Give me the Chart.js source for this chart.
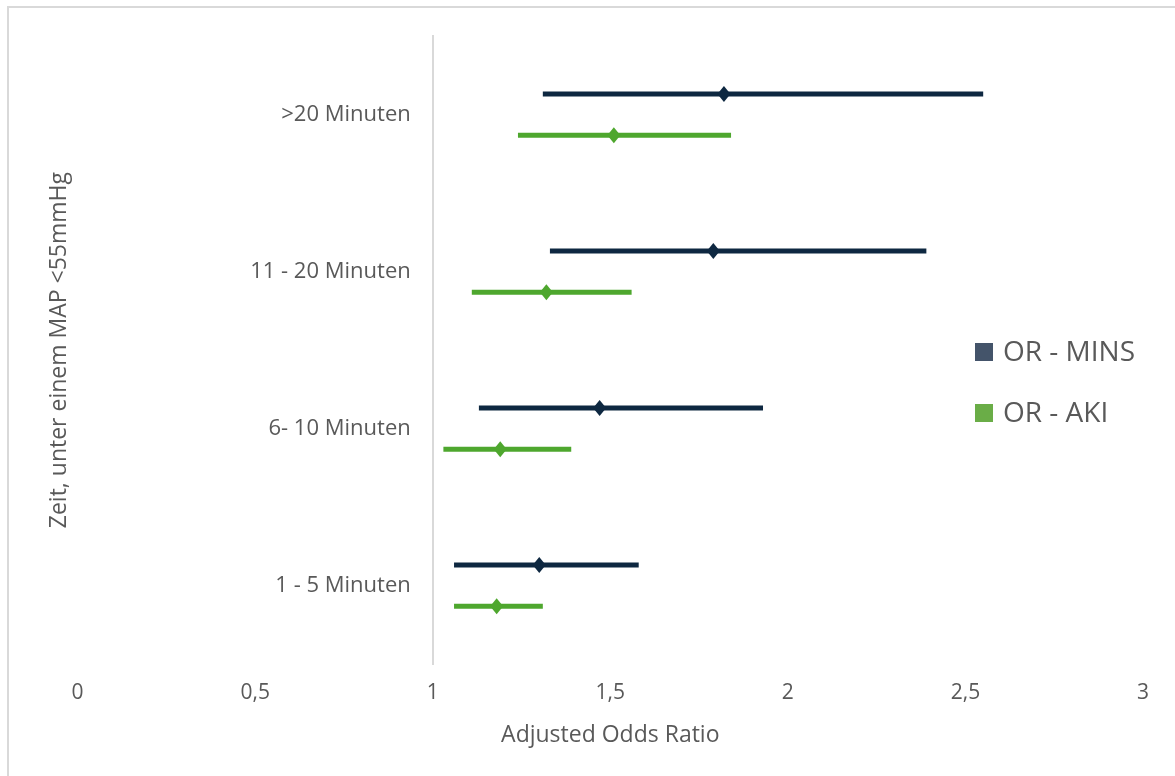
<!DOCTYPE html>
<html>
<head>
<meta charset="utf-8">
<script src="https://cdn.jsdelivr.net/npm/chart.js@4"></script>
<style>
  html, body { margin: 0; padding: 0; background: #ffffff; }
  #wrap { position: relative; width: 1175px; height: 776px; overflow: hidden; }
  #frame { position: absolute; left: 7px; top: 6px; right: -10px; bottom: -10px;
           border-left: 2px solid #d9d9d9; border-top: 2px solid #d9d9d9; }
  #chart { position: absolute; left: 0; top: 0; }
</style>
</head>
<body>
<div id="wrap">
  <div id="frame"></div>
  <canvas id="chart" width="1175" height="776"></canvas>
</div>
<script>
// Duration below MAP 55 mmHg, top row first
const categories = ['>20 Minuten', '11 - 20 Minuten', '6- 10 Minuten', '1 - 5 Minuten'];

// Adjusted odds ratios with 95% confidence limits
const minsOR    = [1.82, 1.79, 1.47, 1.30];
const minsLower = [1.31, 1.33, 1.13, 1.06];
const minsUpper = [2.55, 2.39, 1.93, 1.58];

const akiOR     = [1.51, 1.32, 1.19, 1.18];
const akiLower  = [1.24, 1.11, 1.03, 1.06];
const akiUpper  = [1.84, 1.56, 1.39, 1.31];

const xTickValues = [0, 0.5, 1, 1.5, 2, 2.5, 3];
const xTickLabels = ['0', '0,5', '1', '1,5', '2', '2,5', '3'];

const seriesNames = ['OR - MINS', 'OR - AKI'];

const MINS_COLOR = '#0e2841';
const AKI_COLOR = '#4ea72e';
const LEGEND_COLORS = ['#44546a', '#6aad47'];
const TEXT_COLOR = '#595959';
const FONT = '"Open Sans", "Noto Sans", sans-serif';

const intervals = (lo, hi) => lo.map((v, i) => [v, hi[i]]);

// Diamond markers at the odds ratio on each interval bar
const diamondPlugin = {
  id: 'diamonds',
  afterDatasetsDraw(chart) {
    const ctx = chart.ctx;
    const xs = chart.scales.x;
    chart.data.datasets.forEach((ds, di) => {
      const meta = chart.getDatasetMeta(di);
      meta.data.forEach((bar, i) => {
        const cx = xs.getPixelForValue(ds.or[i]);
        const cy = bar.y;
        ctx.save();
        ctx.fillStyle = ds.backgroundColor;
        ctx.beginPath();
        ctx.moveTo(cx, cy - 8);
        ctx.lineTo(cx + 6.5, cy);
        ctx.lineTo(cx, cy + 8);
        ctx.lineTo(cx - 6.5, cy);
        ctx.closePath();
        ctx.fill();
        ctx.restore();
      });
    });
  }
};

// Category labels sit a little left of the axis line at OR = 1
const CATEGORY_LABEL_GAP = 22;
const labelGapPlugin = {
  id: 'labelGap',
  beforeDraw(chart) {
    const items = chart.scales.y.getLabelItems(chart.chartArea);
    items.forEach(it => {
      if (!it._gapApplied) {
        it.options.translation[0] -= CATEGORY_LABEL_GAP;
        it._gapApplied = true;
      }
    });
  }
};

// Legend drawn over the right part of the plot
const overlayLegend = {
  id: 'overlayLegend',
  afterDraw(chart) {
    const ctx = chart.ctx;
    ctx.save();
    ctx.font = '28px ' + FONT;
    ctx.textBaseline = 'middle';
    ctx.textAlign = 'left';
    chart.data.datasets.forEach((ds, i) => {
      const y = 352 + i * 61;
      ctx.fillStyle = LEGEND_COLORS[i];
      ctx.fillRect(975, y - 9, 18, 18);
      ctx.fillStyle = TEXT_COLOR;
      ctx.fillText(ds.label, 1003, y + 1);
    });
    ctx.restore();
  }
};

new Chart(document.getElementById('chart'), {
  type: 'bar',
  data: {
    labels: categories,
    datasets: [
      {
        label: seriesNames[0],
        data: intervals(minsLower, minsUpper),
        or: minsOR,
        backgroundColor: MINS_COLOR,
        borderWidth: 0,
        maxBarThickness: 5,
        categoryPercentage: 0.525,
        barPercentage: 1
      },
      {
        label: seriesNames[1],
        data: intervals(akiLower, akiUpper),
        or: akiOR,
        backgroundColor: AKI_COLOR,
        borderWidth: 0,
        maxBarThickness: 5,
        categoryPercentage: 0.525,
        barPercentage: 1
      }
    ]
  },
  options: {
    indexAxis: 'y',
    responsive: false,
    animation: false,
    layout: { padding: { top: 36, right: 32, bottom: 27, left: 46 } },
    plugins: {
      legend: { display: false },
      tooltip: { enabled: false }
    },
    scales: {
      x: {
        type: 'linear',
        min: 0,
        max: 3,
        afterBuildTicks(scale) {
          scale.ticks = xTickValues.map(v => ({ value: v }));
        },
        ticks: {
          callback: (v) => xTickLabels[xTickValues.indexOf(v)],
          font: { family: FONT, size: 21 },
          color: TEXT_COLOR,
          padding: 16,
          maxRotation: 0
        },
        grid: { display: false, drawTicks: false },
        border: { display: false },
        title: {
          display: true,
          text: 'Adjusted Odds Ratio',
          font: { family: FONT, size: 23 },
          color: TEXT_COLOR,
          padding: { top: 0, bottom: 0 }
        }
      },
      y: {
        type: 'category',
        position: { x: 1 },
        grid: { display: false, drawTicks: false },
        border: { display: true, color: '#d9d9d9', width: 2 },
        ticks: {
          font: { family: FONT, size: 22 },
          color: TEXT_COLOR,
          padding: 0
        }
      },
      yTitle: {
        type: 'linear',
        position: 'left',
        display: true,
        grid: { display: false, drawTicks: false },
        border: { display: false },
        ticks: { display: false },
        title: {
          display: true,
          text: 'Zeit, unter einem MAP <55mmHg',
          font: { family: FONT, size: 23 },
          color: TEXT_COLOR,
          padding: { top: 0, bottom: 4 }
        }
      }
    }
  },
  plugins: [labelGapPlugin, diamondPlugin, overlayLegend]
});
</script>
</body>
</html>
